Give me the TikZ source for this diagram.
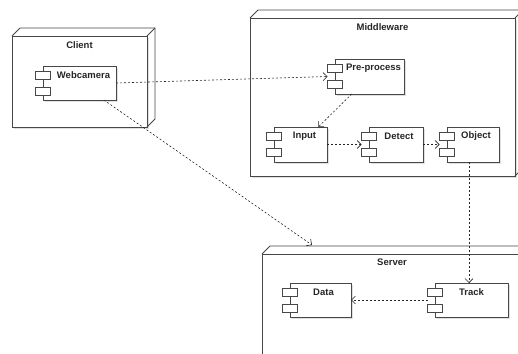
\documentclass[tikz,border=0pt]{standalone}
\usepackage{fontspec}
\setmainfont{Liberation Sans}
\usetikzlibrary{arrows.meta,calc,shadows}
\begin{document}
\begin{tikzpicture}[
  x=1pt, y=-1pt,
  lbl/.style={font=\bfseries\fontsize{9.5}{11}\selectfont, text=black!85},
  cube/.style={draw=black!72, line width=0.8pt, fill=white, inner sep=0pt, outer sep=0pt,
    drop shadow={shadow xshift=2pt, shadow yshift=-2pt, opacity=0.12, fill=black}},
  cubeedge/.style={draw=black!72, line width=0.8pt, line join=miter},
  comp/.style={draw=black!72, line width=0.7pt, fill=white, inner sep=0pt, outer sep=0pt,
    drop shadow={shadow xshift=2pt, shadow yshift=-2pt, opacity=0.12, fill=black}},
  port/.style={draw=black!72, line width=0.7pt, fill=white},
  dep/.style={draw=black!85, line width=0.6pt, dash pattern=on 2pt off 2pt,
    -{Straight Barb[length=4pt,width=8pt]}}
]
\useasboundingbox (0,0) rectangle (518,353);
\clip (0,0) rectangle (518,353);

% deployment nodes: front faces
\node[cube, minimum width=135pt, minimum height=91pt,
  label={[lbl, anchor=center, yshift=-9pt]north:Client}] (client) at (79.5,81.5) {};
\node[cube, minimum width=265pt, minimum height=158pt,
  label={[lbl, anchor=center, yshift=-9pt]north:Middleware}] (mid) at (382.5,97) {};
\node[cube, minimum width=260pt, minimum height=160pt,
  label={[lbl, anchor=center, yshift=-8.5pt]north:Server}] (srv) at (392,334) {};

% top and side faces of the deployment nodes
\foreach \n in {client,mid,srv}{
  \draw[cubeedge] (\n.north west) -- ++(8,-8) -- ([shift={(8,-8)}]\n.north east)
    -- ([shift={(8,-8)}]\n.south east) -- (\n.south east);
  \draw[cubeedge] (\n.north east) -- ++(8,-8);
}

% components
\node[comp, minimum width=73pt, minimum height=34pt,
  label={[lbl, anchor=center, xshift=4pt, yshift=-9pt]north:Webcamera}] (web) at (79.5,83) {};
\node[comp, minimum width=69pt, minimum height=35pt,
  label={[lbl, anchor=center, xshift=4pt, yshift=-9.5pt]north:Pre-process}] (pre) at (369.5,76.5) {};
\node[comp, minimum width=53pt, minimum height=35pt,
  label={[lbl, anchor=center, xshift=4pt, yshift=-9.5pt]north:Input}] (input) at (300.5,144.5) {};
\node[comp, minimum width=54pt, minimum height=35pt,
  label={[lbl, anchor=center, xshift=3pt, yshift=-9.5pt]north:Detect}] (detect) at (396,144.5) {};
\node[comp, minimum width=52pt, minimum height=35pt,
  label={[lbl, anchor=center, xshift=3pt, yshift=-9.5pt]north:Object}] (object) at (473,144.5) {};
\node[comp, minimum width=61pt, minimum height=34pt,
  label={[lbl, anchor=center, xshift=3pt, yshift=-9pt]north:Data}] (data) at (320.5,300) {};
\node[comp, minimum width=73pt, minimum height=34pt,
  label={[lbl, anchor=center, xshift=0pt, yshift=-9pt]north:Track}] (track) at (471.5,300) {};

% component ports
\foreach \n in {web,pre,input,detect,object,data,track}{
  \draw[port] ($(\n.north west)+(-7.5,5.5)$) rectangle ++(15,8);
  \draw[port] ($(\n.north west)+(-7.5,21)$) rectangle ++(15,8);
}

% dependencies
\coordinate (srvin) at ([xshift=50pt, yshift=9pt]srv.north west);
\draw[dep] (web.east) -- ($(pre.west)+(-7.5,0)$);
\draw[dep] (web) -- (srvin);
\draw[dep] (pre) -- (input);
\draw[dep] (input.east) -- ($(detect.west)+(-7.5,0)$);
\draw[dep] (detect.east) -- ($(object.west)+(-7.5,0)$);
\draw[dep] ([xshift=-4pt]object.south) -- ([xshift=-4pt]object.south |- track.north);
\draw[dep] ($(track.west)+(-7.5,0)$) -- (data.east);
\end{tikzpicture}
\end{document}
